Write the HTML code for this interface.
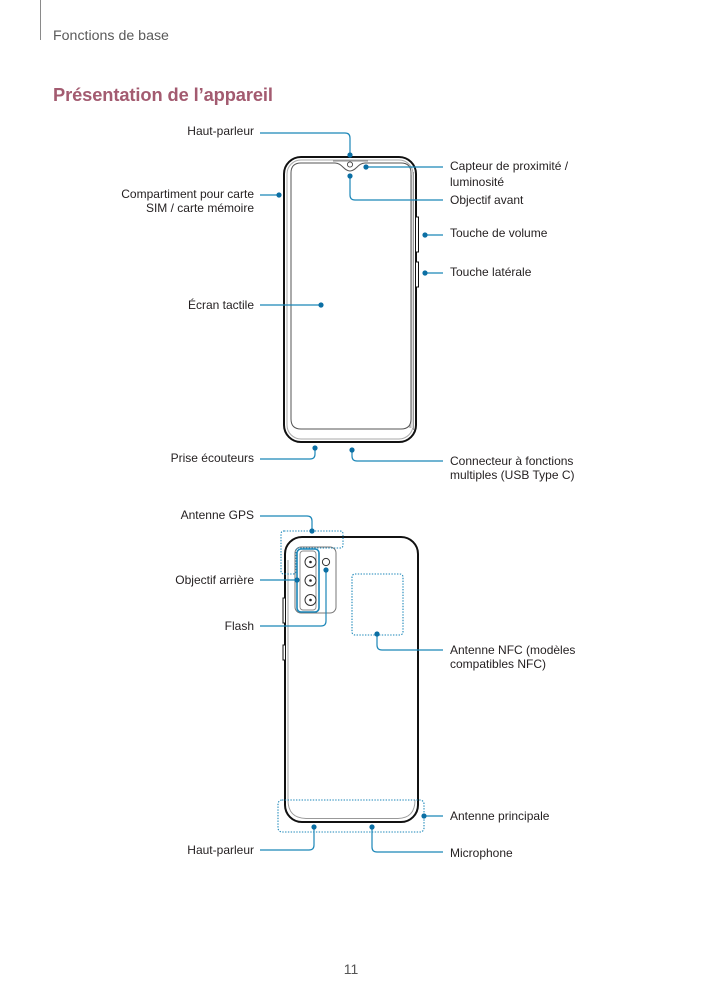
<!DOCTYPE html>
<html><head><meta charset="utf-8"><style>
html,body{margin:0;padding:0;background:#fff;}
svg{display:block;}
text{font-family:"Liberation Sans",sans-serif;}
.l{font-size:12px;fill:#231f20;}
.e{text-anchor:end;}
.c{fill:none;stroke:#1a86b8;stroke-width:1.2;}
.d{fill:#0b6fa4;}
.dot{fill:none;stroke:#1a86b8;stroke-width:1.1;stroke-dasharray:1.4 1.4;}
</style></head><body>
<svg width="703" height="994" viewBox="0 0 703 994" xmlns="http://www.w3.org/2000/svg">
<line x1="40.5" y1="0" x2="40.5" y2="40" stroke="#8a8a8a" stroke-width="1"/>
<text x="53" y="40" style="font-size:14.2px;fill:#5a5a5a">Fonctions de base</text>
<text x="53" y="101" style="font-size:18.3px;font-weight:bold;fill:#a35b70;letter-spacing:-0.1px">Présentation de l’appareil</text>

<!-- FRONT PHONE -->
<rect x="284" y="157" width="132" height="285" rx="17" fill="#fff" stroke="#111" stroke-width="2"/>
<rect x="287" y="160" width="126" height="279" rx="14" fill="none" stroke="#aaa" stroke-width="1"/>
<path d="M410,175 V428 M413.5,172 V430" stroke="#999" stroke-width="1" fill="none"/>
<rect x="410.5" y="175" width="2.5" height="253" fill="#ddd"/>
<path d="M301,163 H335 C342,163 344,171 350,171 C356,171 358,163 365,163 H401 Q411,163 411,173 V419 Q411,429 401,429 H301 Q291,429 291,419 V173 Q291,163 301,163 Z" fill="#fff" stroke="#555" stroke-width="1"/>
<path d="M333,161 H368" stroke="#888" stroke-width="1"/>
<circle cx="350" cy="164.5" r="2.6" fill="#fff" stroke="#444" stroke-width="0.9"/>
<!-- side buttons front -->
<path d="M416,217 H418.5 V252 H416 M416,262 H418.5 V287 H416" fill="#fff" stroke="#111" stroke-width="1"/>

<!-- BACK PHONE -->
<rect x="285" y="537" width="133" height="285" rx="17" fill="#fff" stroke="#111" stroke-width="2"/>
<path d="M288,560 V800 Q288,818 306,818.5 H398 Q415,818 415,800" fill="none" stroke="#999" stroke-width="0.9"/>
<path d="M285,598 H283 V623 H285 M285,645 H283 V660 H285" fill="#fff" stroke="#111" stroke-width="1"/>
<!-- camera module -->
<rect x="295" y="547" width="41" height="66" rx="6" fill="#fff" stroke="#777" stroke-width="1"/>
<rect x="300" y="551" width="16" height="59" rx="3" fill="none" stroke="#888" stroke-width="0.9"/>
<rect x="297" y="549" width="22" height="63" rx="4" fill="none" stroke="#1a86b8" stroke-width="1.6"/>
<g fill="#fff" stroke="#333" stroke-width="1">
<circle cx="310.5" cy="562" r="5.5"/><circle cx="310.5" cy="580.5" r="5.5"/><circle cx="310.5" cy="600" r="5.5"/>
<circle cx="326" cy="562" r="3.6"/>
</g>
<g fill="#222"><circle cx="310.5" cy="562" r="1.3"/><circle cx="310.5" cy="580.5" r="1.3"/><circle cx="310.5" cy="600" r="1.3"/></g>
<!-- dotted antenna regions -->
<path class="dot" d="M284,531 H340 Q343,531 343,534 V545 Q343,548 340,548 H299 Q296,548 296,551 V571 Q296,574 293,574 H284 Q281,574 281,571 V534 Q281,531 284,531 Z"/>
<rect class="dot" x="352" y="574" width="51" height="61" rx="3"/>
<rect class="dot" x="278" y="800" width="146" height="32" rx="4"/>

<!-- CONNECTORS -->
<path class="c" d="M260,133 H345 Q350,133 350,138 V155"/>
<path class="c" d="M260,195 H279"/>
<path class="c" d="M260,305 H321"/>
<path class="c" d="M260,459 H310 Q315,459 315,454 V448"/>
<path class="c" d="M443,167 H366"/>
<path class="c" d="M350,176 V195 Q350,200 355,200 H443"/>
<path class="c" d="M425,235 H443"/>
<path class="c" d="M425,273 H443"/>
<path class="c" d="M352,450 V456 Q352,461 357,461 H443"/>
<path class="c" d="M312,531 V521 Q312,516 307,516 H260"/>
<path class="c" d="M260,580 H297"/>
<path class="c" d="M260,626 H321 Q326,626 326,621 V570"/>
<path class="c" d="M377,634 V645 Q377,650 382,650 H443"/>
<path class="c" d="M424,816 H443"/>
<path class="c" d="M314,827 V845 Q314,850 309,850 H260"/>
<path class="c" d="M372,827 V847 Q372,852 377,852 H443"/>
<g class="d">
<circle cx="350" cy="155" r="2.6"/><circle cx="279" cy="195" r="2.6"/><circle cx="321" cy="305" r="2.6"/>
<circle cx="315" cy="448" r="2.6"/><circle cx="366" cy="167" r="2.6"/><circle cx="350" cy="176" r="2.6"/>
<circle cx="425" cy="235" r="2.6"/><circle cx="425" cy="273" r="2.6"/><circle cx="352" cy="450" r="2.6"/>
<circle cx="312" cy="531" r="2.6"/><circle cx="297" cy="580" r="2.6"/><circle cx="326" cy="570" r="2.6"/>
<circle cx="377" cy="634" r="2.6"/><circle cx="424" cy="816" r="2.6"/><circle cx="314" cy="827" r="2.6"/>
<circle cx="372" cy="827" r="2.6"/>
</g>

<!-- LEFT LABELS -->
<text class="l e" x="254" y="135">Haut-parleur</text>
<text class="l e" x="254" y="198">Compartiment pour carte</text>
<text class="l e" x="254" y="212">SIM / carte mémoire</text>
<text class="l e" x="254" y="309">Écran tactile</text>
<text class="l e" x="254" y="462">Prise écouteurs</text>
<text class="l e" x="254" y="519">Antenne GPS</text>
<text class="l e" x="254" y="584">Objectif arrière</text>
<text class="l e" x="254" y="630">Flash</text>
<text class="l e" x="254" y="854">Haut-parleur</text>

<!-- RIGHT LABELS -->
<text class="l" x="450" y="170">Capteur de proximité /</text>
<text class="l" x="450" y="186">luminosité</text>
<text class="l" x="450" y="204">Objectif avant</text>
<text class="l" x="450" y="237">Touche de volume</text>
<text class="l" x="450" y="276">Touche latérale</text>
<text class="l" x="450" y="465">Connecteur à fonctions</text>
<text class="l" x="450" y="479">multiples (USB Type C)</text>
<text class="l" x="450" y="654">Antenne NFC (modèles</text>
<text class="l" x="450" y="668">compatibles NFC)</text>
<text class="l" x="450" y="820">Antenne principale</text>
<text class="l" x="450" y="857">Microphone</text>

<text x="351" y="974" text-anchor="middle" style="font-size:14px;fill:#555">11</text>
</svg>
</body></html>
